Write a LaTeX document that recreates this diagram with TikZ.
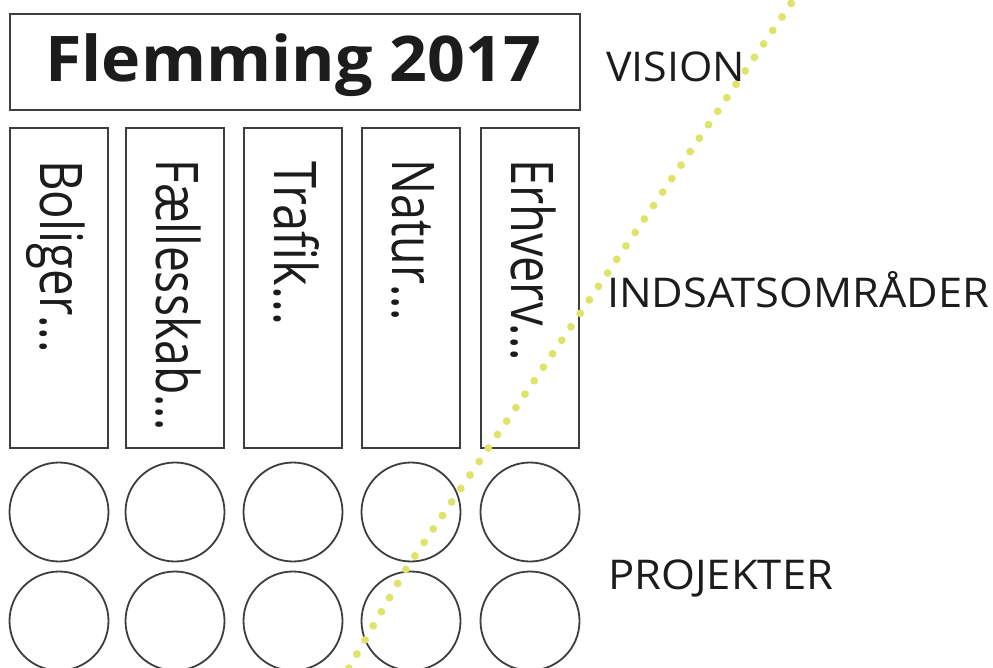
\documentclass[tikz,border=0pt]{standalone}
\usepackage{fontspec}
\setmainfont{Open Sans}
\usepackage{graphicx}
\definecolor{dotc}{RGB}{222,227,105}
\definecolor{ink}{RGB}{28,28,28}
\definecolor{edge}{RGB}{62,62,62}
\begin{document}
\begin{tikzpicture}[x=1pt,y=-1pt,
  titlebox/.style={draw=edge,line width=1.8pt,minimum width=570,minimum height=96,inner sep=0},
  colbox/.style={draw=edge,line width=1.8pt,minimum width=98,minimum height=320,inner sep=0},
  circ/.style={circle,draw=edge,line width=1.8pt,minimum size=99,inner sep=0},
  coltext/.style={text=ink,inner sep=0,anchor=base west,rotate=-90,font=\fontsize{58.8}{60}\selectfont},
  lab/.style={text=ink,inner sep=0,anchor=base west,font=\fontsize{41}{44}\selectfont},
  dotline/.style={draw=dotc,line width=7.8pt,line cap=round,dash pattern=on 0pt off 16.3pt}]
\useasboundingbox (0,0) rectangle (993,668);
\clip (0,0) rectangle (993,668);
% title
\node[titlebox] (title) at (295,62) {};
\node[text=ink,inner sep=0,anchor=base west,font=\fontsize{63}{70}\selectfont\bfseries] (titletext) at (45,82) {\resizebox{496pt}{\height}{Flemming 2017}};
% columns
\node[colbox] (c1) at (59,288) {};
\node[colbox] (c2) at (175,288) {};
\node[colbox] (c3) at (293,288) {};
\node[colbox] (c4) at (411,288) {};
\node[colbox] (c5) at (530,288) {};
\node[coltext] (t1) at (40,160) {\resizebox{193pt}{\height}{Boliger...}};
\node[coltext] (t2) at (156,159) {\resizebox{272pt}{\height}{Fællesskab...}};
\node[coltext] (t3) at (274,161) {\resizebox{164pt}{\height}{Trafik...}};
\node[coltext] (t4) at (392,159) {\resizebox{162pt}{\height}{Natur...}};
\node[coltext] (t5) at (511,159) {\resizebox{202pt}{\height}{Erhverv...}};
% circles
\node[circ] (p11) at (59,512) {};
\node[circ] (p12) at (175,512) {};
\node[circ] (p13) at (293,512) {};
\node[circ] (p14) at (411,512) {};
\node[circ] (p15) at (530,512) {};
\node[circ] (p21) at (59,621) {};
\node[circ] (p22) at (175,621) {};
\node[circ] (p23) at (293,621) {};
\node[circ] (p24) at (411,621) {};
\node[circ] (p25) at (530,621) {};
% labels
\node[lab] (vision) at (606,82) {\resizebox{139pt}{\height}{VISION}};
\node[lab] (indsats) at (607,307) {\resizebox{382pt}{\height}{INDSATSOMRÅDER}};
\node[lab] (projekter) at (608,589) {\resizebox{225pt}{\height}{PROJEKTER}};
% dotted line
\coordinate (d1) at (800.3,-10);
\coordinate (d2) at (406,569);
\coordinate (d3) at (344.8,675);
\draw[dotline] (d1) -- (d2) -- (d3);
\end{tikzpicture}
\end{document}
